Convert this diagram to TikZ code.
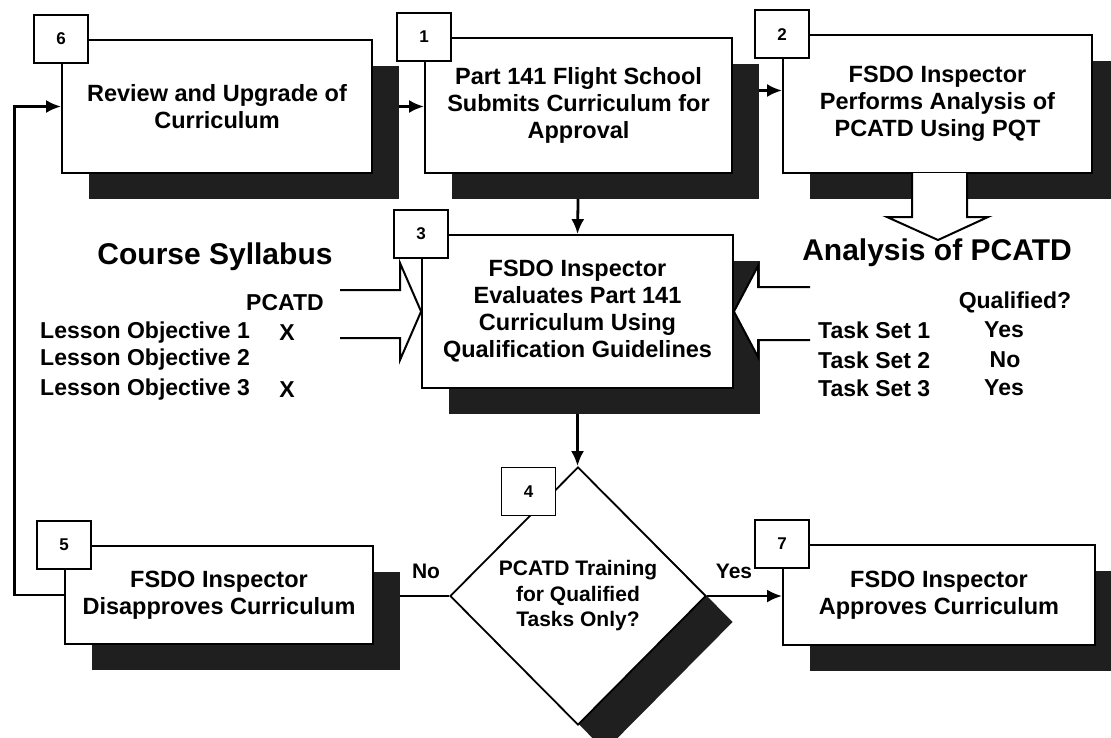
\documentclass[tikz,border=0pt]{standalone}
\usepackage{fontspec}
\setmainfont{Liberation Sans}
\usetikzlibrary{shapes.geometric,arrows.meta,shadows}
\pgfdeclarelayer{bg}
\pgfsetlayers{bg,main}
\begin{document}
\begin{tikzpicture}[x=1pt,y=-1pt,
  shd/.style={drop shadow={shadow xshift=27pt,shadow yshift=-26pt,opacity=1,fill=black!88}},
  box/.style={draw,line width=1.8pt,fill=white,align=center,inner sep=0pt,
    font=\bfseries\fontsize{23.5}{27}\selectfont,shd},
  tab/.style={draw,line width=1.8pt,fill=white,minimum width=54pt,minimum height=48pt,
    inner sep=0pt,font=\bfseries\fontsize{17}{20}\selectfont},
  txt/.style={inner sep=0pt,font=\bfseries\fontsize{23}{26}\selectfont},
  hd/.style={inner sep=0pt,font=\bfseries\fontsize{30}{34}\selectfont},
  con/.style={line width=2.8pt,-{Latex[length=15pt,width=13pt]}},
  blk/.style={draw,line width=2pt,fill=white,line join=miter}]
\useasboundingbox (0,0) rectangle (1111,737);
\clip (0,0) rectangle (1111,737);

% boxes
\node[box,minimum width=310pt,minimum height=133pt] (b6) at (217,106.5) {Review and Upgrade of\\Curriculum};
\node[tab] (t6) at (b6.north west) {6};
\node[box,minimum width=307pt,minimum height=135pt] (b1) at (578.5,105.5) {Part 141 Flight School\\Submits Curriculum for\\Approval};
\node[tab] (t1) at (b1.north west) {1};
\node[box,minimum width=309pt,minimum height=138pt] (b2) at (937.5,104) {FSDO Inspector\\Performs Analysis of\\PCATD Using PQT};
\node[tab] (t2) at (b2.north west) {2};
\node[box,minimum width=311pt,minimum height=153pt] (b3) at (577.5,311.5) {FSDO Inspector\\Evaluates Part 141\\Curriculum Using\\Qualification Guidelines};
\node[tab] (t3) at (b3.north west) {3};
\node[box,minimum width=308pt,minimum height=98pt] (b5) at (219,595) {FSDO Inspector\\Disapproves Curriculum};
\node[tab] (t5) at (b5.north west) {5};
\node[box,minimum width=312pt,minimum height=100pt] (b7) at (939,595) {FSDO Inspector\\Approves Curriculum};
\node[tab] (t7) at (b7.north west) {7};

% decision
\node[diamond,draw,line width=1.8pt,fill=white,minimum width=256pt,minimum height=258pt,
  inner sep=0pt,align=center,font=\bfseries\fontsize{21}{25.5}\selectfont,shd] (d4) at (578,596)
  {PCATD Training\\for Qualified\\Tasks Only?};
\node[tab] (t4) at (528.5,491.5) {4};

% side texts
\node[hd] (cs) at (215,257) {Course Syllabus};
\node[txt] (pc) at (285,303) {PCATD};
\node[txt,anchor=west] (lo1) at (40,333) {Lesson Objective 1};
\node[txt] (x1) at (287,333) {X};
\node[txt,anchor=west] (lo2) at (40,360) {Lesson Objective 2};
\node[txt,anchor=west] (lo3) at (40,390) {Lesson Objective 3};
\node[txt] (x3) at (287,390) {X};

\node[hd] (an) at (937,253) {Analysis of PCATD};
\node[txt] (q) at (1015,302) {Qualified?};
\node[txt,anchor=west] (ts1) at (818,330) {Task Set 1};
\node[txt] (y1) at (1004,330) {Yes};
\node[txt,anchor=west] (ts2) at (818,360) {Task Set 2};
\node[txt] (n2) at (1005,360) {No};
\node[txt,anchor=west] (ts3) at (818,388) {Task Set 3};
\node[txt] (y3) at (1004,388) {Yes};

% block arrows
\draw[blk] (340,290) -- (400,290) -- (400,263) -- (b3.west) -- (400,360) -- (400,338) -- (340,338);
\draw[blk] (810,287) -- (758,287) -- (758,266) -- (b3.east) -- (758,357) -- (758,340) -- (810,340);
\draw[blk] (912,173) -- (912,217) -- (887,217) -- (938,240) -- (988,217) -- (967,217) -- (967,173);

% labels
\node[txt,font=\bfseries\fontsize{21}{24}\selectfont] (no) at (426,571) {No};
\node[txt,font=\bfseries\fontsize{21}{24}\selectfont] (yes) at (734,571) {Yes};

% connectors
\begin{pgfonlayer}{bg}
\draw[con] (b6.east) -- (b6.east -| b1.west);
\draw[con] ([yshift=15pt]b1.east) -- ([yshift=15pt]b1.east -| b2.west);
\draw[con] (b1.south) -- (b3.north);
\draw[con] (b3.south) -- (b3.south |- d4.north);
\draw[con] (d4.west) -- (d4.west -| b5.east);
\draw[con] (d4.east) -- (d4.east -| b7.west);
\draw[con] (b5.west) -- ++(-50,0) |- (b6.west);
\end{pgfonlayer}
\end{tikzpicture}
\end{document}
